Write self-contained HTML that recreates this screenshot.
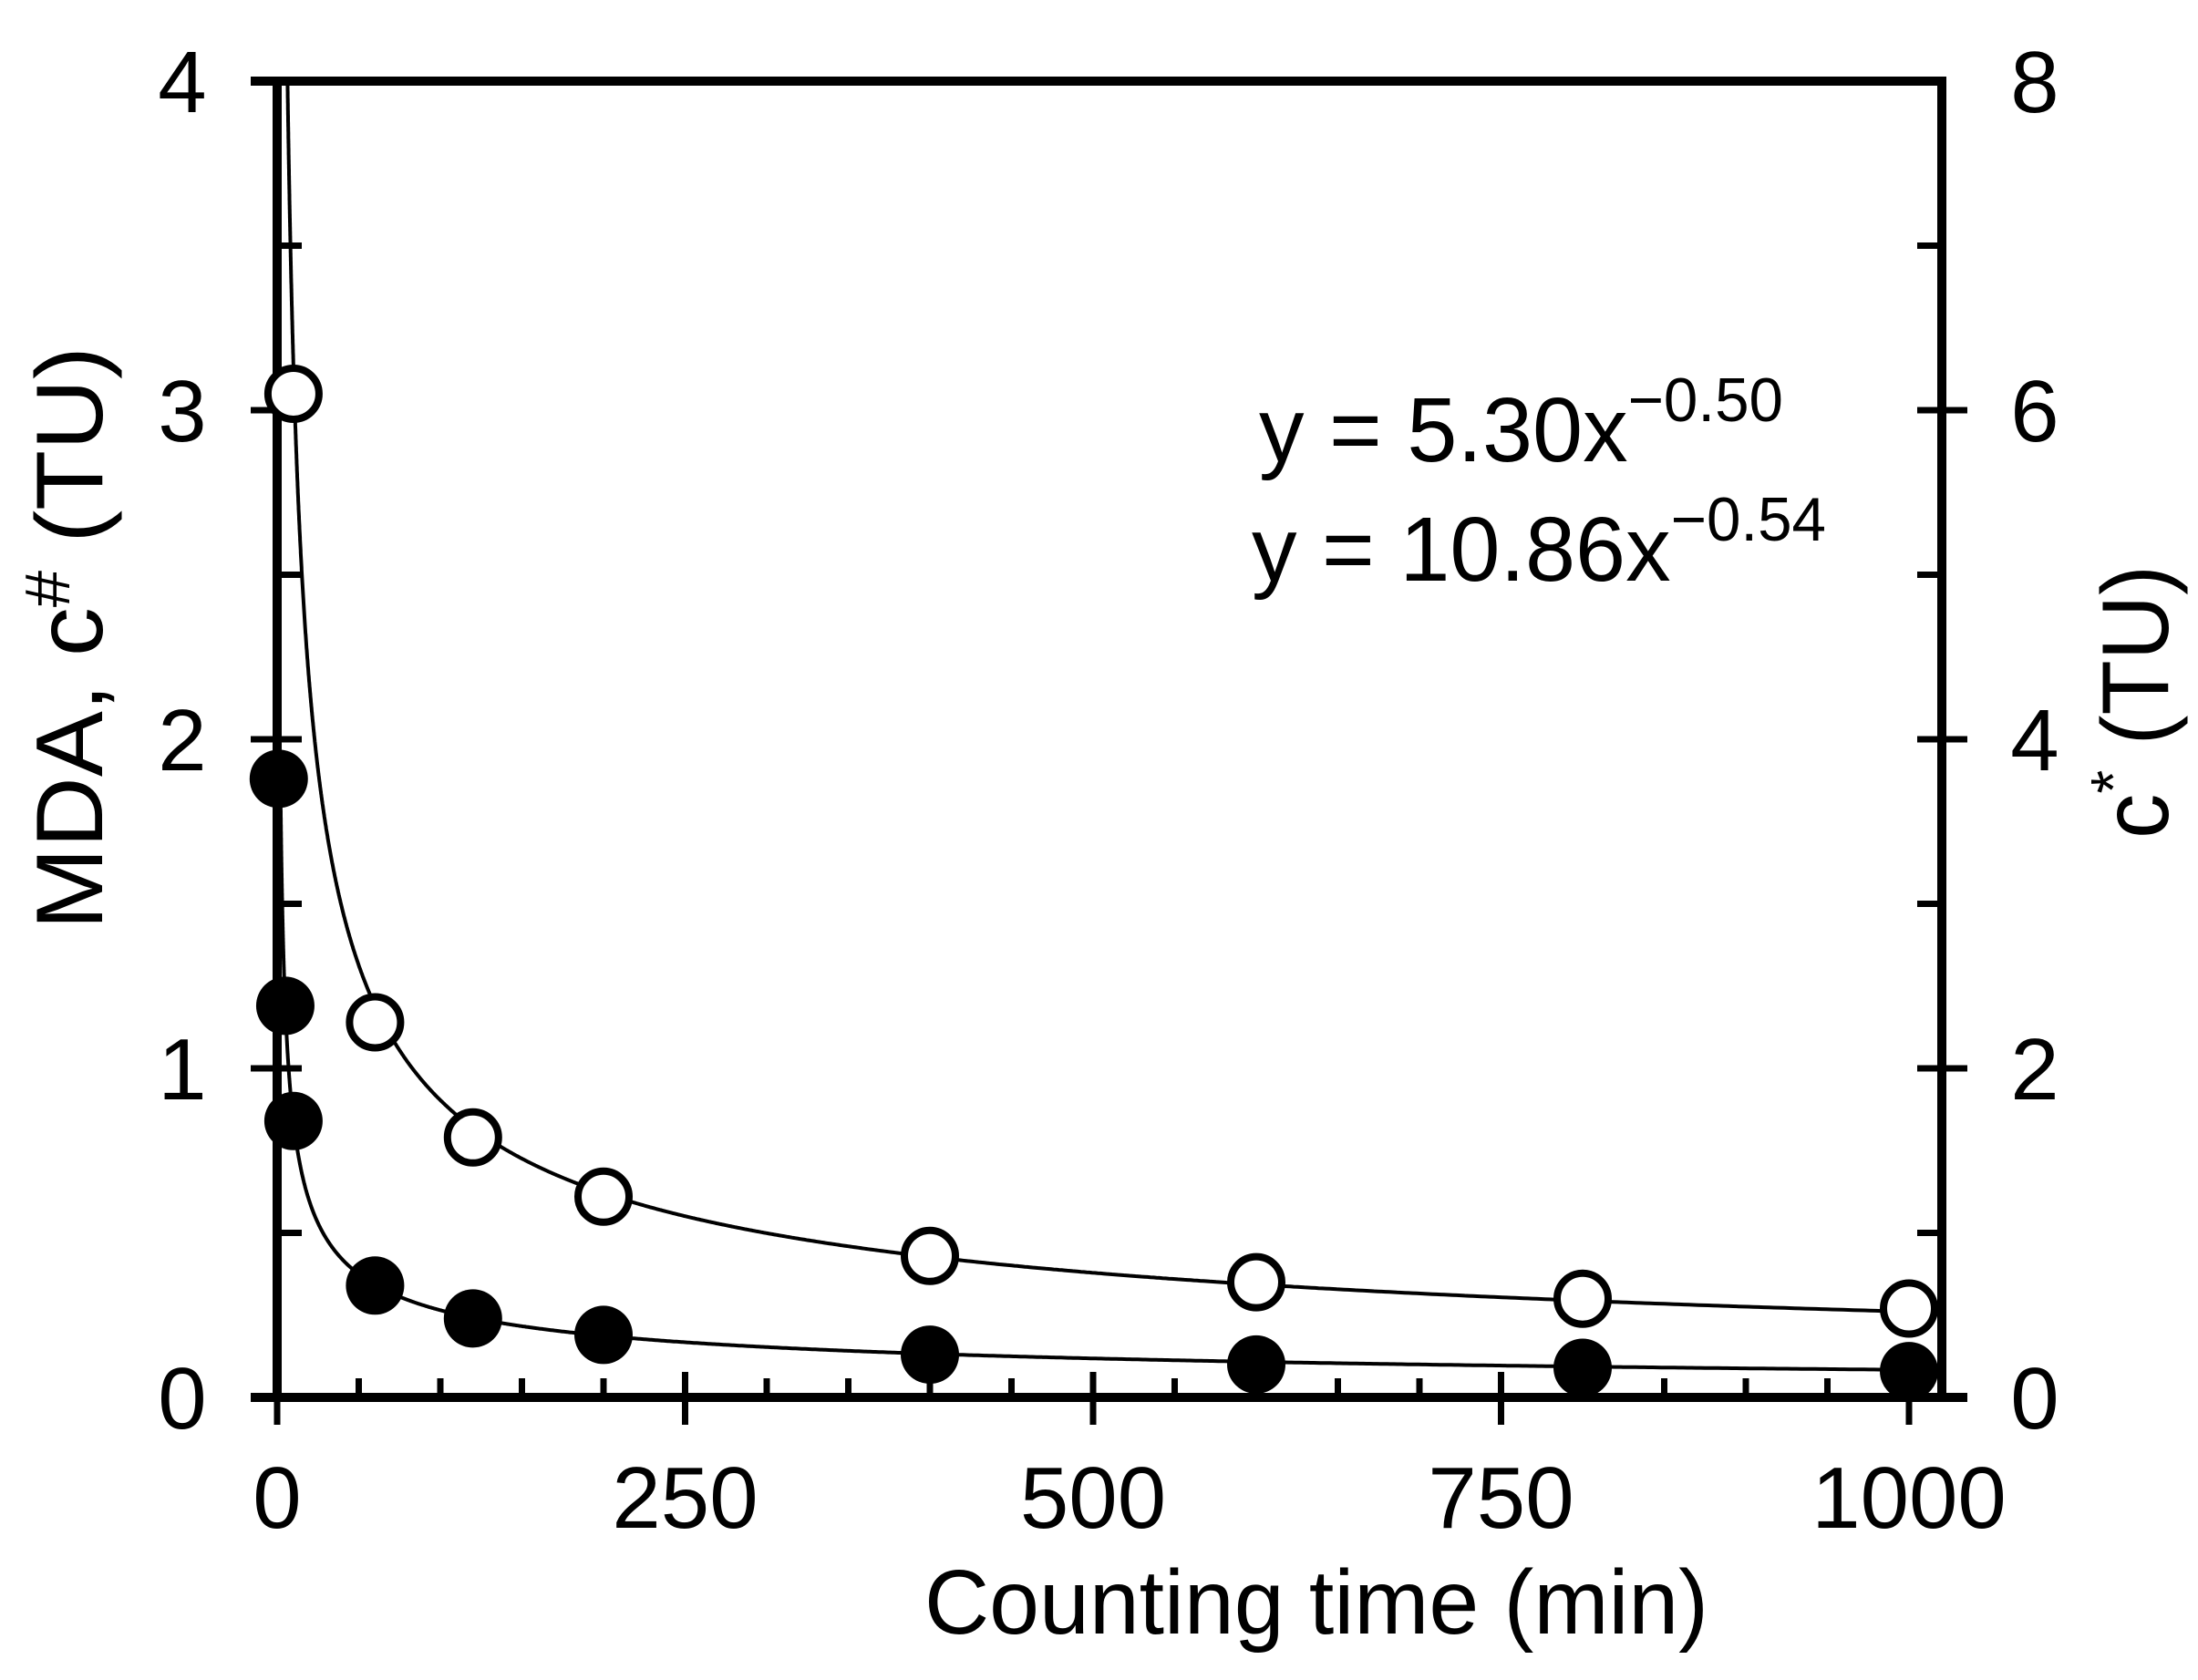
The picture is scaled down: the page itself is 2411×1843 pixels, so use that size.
<!DOCTYPE html>
<html><head><meta charset="utf-8"><style>
html,body{margin:0;padding:0;background:#fff;}
svg{display:block;font-family:"Liberation Sans",Arial,sans-serif;}
</style></head><body>
<svg id="chart" width="2411" height="1843" viewBox="0 0 2411 1843" xmlns="http://www.w3.org/2000/svg">
<g id="axes"></g>
<g id="curves"></g>
<g id="marks"></g>
<text x="1444" y="1792" font-size="100" text-anchor="middle" textLength="860" lengthAdjust="spacingAndGlyphs">Counting time (min)</text>
<text transform="translate(112,700) rotate(-90)" font-size="104" text-anchor="middle" textLength="640" lengthAdjust="spacingAndGlyphs">MDA, c<tspan dy="-36" font-size="70">#</tspan><tspan dy="36"> (TU)</tspan></text>
<text transform="translate(2378,770) rotate(-90)" font-size="104" text-anchor="middle" textLength="300" lengthAdjust="spacingAndGlyphs">c<tspan dy="-36" font-size="70">*</tspan><tspan dy="36"> (TU)</tspan></text>
<text x="1381" y="506" font-size="100" textLength="575" lengthAdjust="spacingAndGlyphs">y = 5.30x<tspan dy="-44" font-size="68">−0.50</tspan></text>
<text x="1373" y="637" font-size="100" textLength="630" lengthAdjust="spacingAndGlyphs">y = 10.86x<tspan dy="-44" font-size="68">−0.54</tspan></text>
</svg>
<script>
const xTicks=[0,250,500,750,1000];
const leftTicks=[0,1,2,3,4];
const rightTicks=[0,2,4,6,8];
const openX=[10,60,120,200,400,600,800,1000];
const openY=[3.05,1.14,0.79,0.61,0.43,0.35,0.30,0.27];
const filledX=[1,5,10,60,120,200,400,600,800,1000];
const filledY=[3.76,2.38,1.68,0.68,0.48,0.38,0.26,0.20,0.18,0.16];
const fitOpen=[10.86,-0.54];
const fitFilled=[5.30,-0.50];

const NS='http://www.w3.org/2000/svg';
const X0=304,X1=2094,YB=1533,YT=89,XR=2130;
const sx=v=>X0+(X1-X0)*v/1000;
const syL=v=>YB-(YB-YT)*v/4;
const syR=v=>YB-(YB-YT)*v/8;
function mk(tag,attrs,parent){const e=document.createElementNS(NS,tag);for(const k in attrs)e.setAttribute(k,attrs[k]);parent.appendChild(e);return e;}
const axes=document.getElementById('axes');
let e;
e=mk('line',{x1:275,y1:YB,x2:2158,y2:YB,stroke:'#000','stroke-width':10},axes);


e=mk('line',{x1:275,y1:YT,x2:XR+5,y2:YT,stroke:'#000','stroke-width':10},axes);


e=mk('line',{x1:X0,y1:YT-5,x2:X0,y2:YB+5,stroke:'#000','stroke-width':10},axes);


e=mk('line',{x1:XR,y1:YT-5,x2:XR,y2:YB+5,stroke:'#000','stroke-width':10},axes);


for(let v=0;v<=1000;v+=50){
  const major=v%250===0;
  e=mk('line',{x1:sx(v),y1:major?YB-28:YB-21,x2:sx(v),y2:major?YB+30:YB,stroke:'#000','stroke-width':7},axes);
  
  
}
xTicks.forEach(v=>{
  e=mk('text',{x:sx(v),y:1676,'font-size':96,'text-anchor':'middle'},axes);e.textContent=v;
  
  
});
for(let v=0.5;v<4;v+=0.5){
  const major=Number.isInteger(v);
  e=mk('line',{x1:major?275:X0,y1:syL(v),x2:X0+27,y2:syL(v),stroke:'#000','stroke-width':7},axes);
  
  
}
leftTicks.forEach(v=>{
  e=mk('text',{x:200,y:syL(v)+34,'font-size':96,'text-anchor':'middle'},axes);e.textContent=v;
  
  
});
for(let v=1;v<8;v++){
  const major=v%2===0;
  e=mk('line',{x1:XR-27,y1:syR(v),x2:major?2158:XR,y2:syR(v),stroke:'#000','stroke-width':7},axes);
  
  
}
rightTicks.forEach(v=>{
  e=mk('text',{x:2232,y:syR(v)+34,'font-size':96,'text-anchor':'middle'},axes);e.textContent=v;
  
  
});
const curves=document.getElementById('curves');
function curve(fit,sy,xmin,ymax,name){
  let d='';let started=false;
  for(let i=0;i<=2000;i++){
    const x=xmin*Math.pow(1000/xmin,i/2000);
    const y=fit[0]*Math.pow(x,fit[1]);
    if(y>ymax)continue;
    d+=(started?'L':'M')+sx(x).toFixed(1)+','+sy(y).toFixed(1);started=true;
  }
  e=mk('path',{d:d,fill:'none',stroke:'#000','stroke-width':4},curves);
  
  
}
curve(fitOpen,syL,1,4,'fit-curve-open');
curve(fitFilled,syR,2,8,'fit-curve-filled');
const marks=document.getElementById('marks');
openX.forEach((x,i)=>{
  e=mk('circle',{cx:sx(x),cy:syL(openY[i]),r:28,fill:'#fff',stroke:'#000','stroke-width':8},marks);
  
  
});
filledX.forEach((x,i)=>{
  e=mk('circle',{cx:sx(x),cy:syR(filledY[i]),r:32,fill:'#000'},marks);
  
  
});
</script>
</body></html>
